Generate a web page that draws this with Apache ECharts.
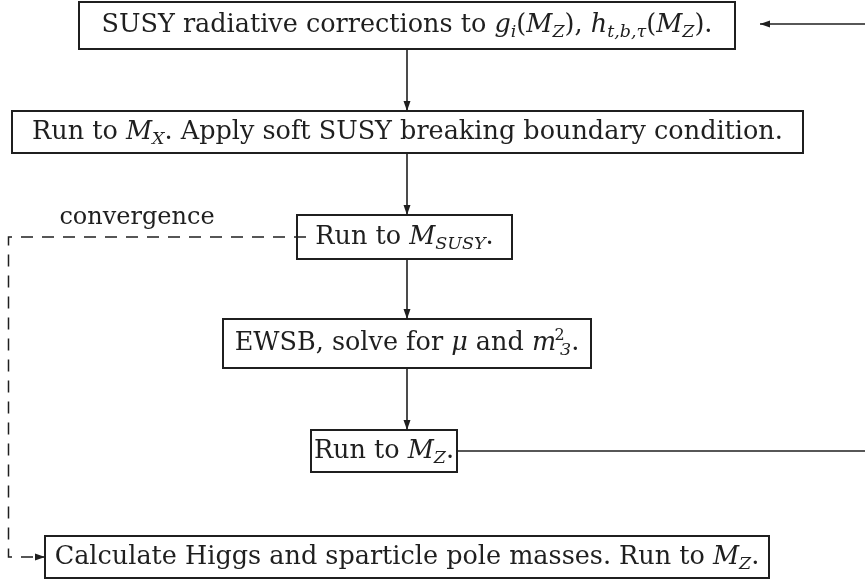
<!DOCTYPE html>
<html><head><meta charset="utf-8">
<script src="https://cdn.jsdelivr.net/npm/echarts@6/dist/echarts.min.js"></script>
<style>html,body{margin:0;padding:0;background:#fff}#c{width:865px;height:579px}</style>
</head><body><div id="c"></div>
<script>
// Flowchart node labels (rich-text markup: i = italic, s = subscript, p = superscript)
const boxLabels = [
  'SUSY radiative corrections to {i|g}{s|i}({i|M}{s|Z}), {i|h}{s|t,b,τ}({i|M}{s|Z}).',
  'Run to {i|M}{s|X}. Apply soft SUSY breaking boundary condition.',
  'Run to {i|M}{s|SUSY}.',
  'EWSB, solve for {i|μ} and {i|m}{p|2}{s|3}.',
  'Run to {i|M}{s|Z}.',
  'Calculate Higgs and sparticle pole masses. Run to {i|M}{s|Z}.'
];
const annotationLabels = ['convergence'];

// Layout in pixel space: [left, top, right, bottom]
const boxLayout = [
  [79, 2, 735, 49],
  [12, 111, 803, 153],
  [297, 215, 512, 259],
  [223, 319, 591, 368],
  [311, 430, 457, 472],
  [45, 536, 769, 578]
];
const annotationLayout = [[137, 218]];
// Edges: point lists, arrow flag, dashed flag
const edgePaths = [
  [[865, 24], [760, 24]],
  [[407, 49], [407, 111]],
  [[407, 153], [407, 215]],
  [[407, 259], [407, 319]],
  [[407, 368], [407, 430]],
  [[457, 451], [865, 451]],
  [[306, 237], [8.5, 237], [8.5, 557], [45, 557]]
];
const edgeArrow = [true, true, true, true, true, false, true];
const edgeDashed = [false, false, false, false, false, false, true];

const FONT = '"DejaVu Serif", serif';
const FS = 25.5;
const INK = '#1f1f1f';

const rich = {
  i: {fontStyle: 'italic', fontFamily: FONT, fontSize: FS, fill: INK},
  s: {fontStyle: 'italic', fontFamily: FONT, fontSize: 17.5, fill: INK, verticalAlign: 'bottom', lineHeight: 17},
  p: {fontFamily: FONT, fontSize: 16, fill: INK, verticalAlign: 'top', lineHeight: 12, width: 1, padding: [0, 0, 0, 3]}
};

const chart = echarts.init(document.getElementById('c'), null, {renderer: 'canvas'});
chart.setOption({
  animation: false,
  backgroundColor: '#fff',
  grid: {left: 0, right: 0, top: 0, bottom: 0},
  xAxis: {type: 'value', min: 0, max: 865, show: false},
  yAxis: {type: 'value', min: 0, max: 579, inverse: true, show: false},
  series: [
    {
      type: 'custom',
      coordinateSystem: 'cartesian2d',
      data: boxLayout.map(b => b.slice()),
      renderItem: function (params, api) {
        const p1 = api.coord([api.value(0), api.value(1)]);
        const p2 = api.coord([api.value(2), api.value(3)]);
        return {
          type: 'rect',
          shape: {x: p1[0], y: p1[1], width: p2[0] - p1[0], height: p2[1] - p1[1]},
          style: {fill: 'none', stroke: INK, lineWidth: 2},
          textContent: {
            style: {
              text: boxLabels[params.dataIndex],
              rich: rich,
              fontFamily: FONT, fontSize: FS, fill: INK, lineHeight: 32
            }
          },
          textConfig: {position: 'inside'}
        };
      },
      z: 2
    },
    {
      type: 'custom',
      coordinateSystem: 'cartesian2d',
      data: edgePaths.map((e, i) => [i]),
      renderItem: function (params, api) {
        const idx = api.value(0);
        const pts = edgePaths[idx].map(p => api.coord(p));
        const children = [{
          type: 'polyline',
          shape: {points: pts},
          style: {fill: 'none', stroke: INK, lineWidth: edgeDashed[idx] ? 1.5 : 1.6,
                  lineDash: edgeDashed[idx] ? [12, 9] : null}
        }];
        if (edgeArrow[idx]) {
          const a = pts[pts.length - 2], b = pts[pts.length - 1];
          const dx = b[0] - a[0], dy = b[1] - a[1];
          const len = Math.sqrt(dx * dx + dy * dy);
          const ux = dx / len, uy = dy / len;
          const L = 10, W = 3.5;
          const bx = b[0] - ux * L, by = b[1] - uy * L;
          children.push({
            type: 'polygon',
            shape: {points: [[b[0], b[1]], [bx - uy * W, by + ux * W], [bx + uy * W, by - ux * W]]},
            style: {fill: INK, stroke: null}
          });
        }
        return {type: 'group', children: children};
      },
      z: 3
    },
    {
      type: 'scatter',
      data: annotationLayout.map((p, i) => ({value: p, name: annotationLabels[i]})),
      symbolSize: 0,
      itemStyle: {opacity: 1},
      label: {
        show: true, position: 'inside', formatter: '{b}',
        fontFamily: FONT, fontSize: 24, color: INK
      },
      z: 4
    }
  ]
});
</script>
</body></html>
